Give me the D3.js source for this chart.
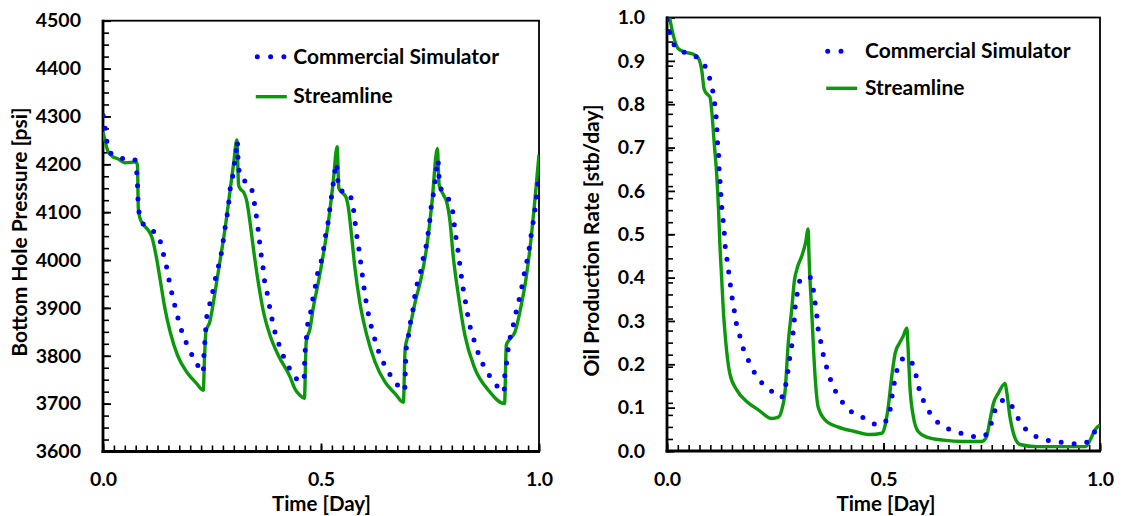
<!DOCTYPE html>
<html><head><meta charset="utf-8">
<script src="https://cdn.jsdelivr.net/npm/d3@7"></script>
<style>
html,body{margin:0;padding:0;background:#fff;}
svg text{font-family:Lato,"Open Sans",sans-serif;font-weight:700;fill:#000;}
</style></head>
<body><svg id="c" width="1122" height="516"></svg>
<script>
// ---------------- DATA ----------------
const seriesNames = ["Commercial Simulator", "Streamline"];
const xTickLabels = ["0.0", "0.5", "1.0"];
const bhpTickLabels = [3600, 3700, 3800, 3900, 4000, 4100, 4200, 4300, 4400, 4500];
const rateTickLabels = [0.0, 0.1, 0.2, 0.3, 0.4, 0.5, 0.6, 0.7, 0.8, 0.9, 1.0];

// Bottom hole pressure - commercial simulator
const bhpSimTime = [0.000,0.005,0.009,0.018,0.043,0.072,0.077,0.079,0.080,0.082,0.090,0.110,0.128,0.135,0.143,0.149,0.155,0.162,0.169,0.177,0.187,0.199,0.213,0.230,0.231,0.233,0.235,0.237,0.243,0.250,0.256,0.263,0.270,0.275,0.279,0.284,0.288,0.291,0.297,0.301,0.305,0.308,0.310,0.316,0.338,0.345,0.350,0.354,0.358,0.361,0.366,0.369,0.375,0.380,0.386,0.392,0.401,0.411,0.424,0.447,0.461,0.462,0.463,0.466,0.468,0.475,0.479,0.485,0.490,0.498,0.505,0.509,0.515,0.519,0.523,0.527,0.531,0.535,0.541,0.563,0.572,0.577,0.580,0.585,0.589,0.593,0.597,0.601,0.606,0.612,0.620,0.628,0.639,0.653,0.668,0.685,0.692,0.693,0.694,0.695,0.700,0.704,0.710,0.714,0.719,0.727,0.733,0.740,0.745,0.749,0.752,0.757,0.761,0.765,0.768,0.772,0.783,0.797,0.804,0.807,0.812,0.816,0.820,0.824,0.829,0.834,0.839,0.847,0.856,0.866,0.880,0.897,0.920,0.921,0.925,0.928,0.933,0.940,0.947,0.955,0.962,0.968,0.975,0.980,0.985,0.990,0.994,0.997,1.000];
const bhpSimValue = [4302,4275,4247,4223,4212,4211,4187,4159,4132,4104,4078,4063,4050,4023,3998,3970,3943,3915,3889,3862,3836,3811,3787,3765,3792,3820,3847,3874,3901,3926,3954,3981,4007,4035,4062,4089,4117,4144,4172,4198,4223,4249,4205,4172,4157,4130,4103,4076,4048,4021,3994,3966,3939,3912,3885,3858,3831,3805,3780,3750,3747,3773,3801,3829,3857,3883,3909,3933,3963,3989,4017,4044,4071,4099,4125,4153,4179,4203,4146,4142,4117,4090,4063,4036,4009,3981,3954,3927,3900,3873,3846,3820,3794,3769,3747,3731,3727,3756,3782,3809,3837,3864,3890,3918,3944,3970,3998,4024,4052,4079,4106,4134,4161,4188,4210,4157,4139,4117,4090,4062,4035,4007,3980,3952,3925,3899,3872,3845,3818,3793,3768,3745,3724,3752,3780,3805,3835,3860,3890,3920,3950,3980,4010,4040,4070,4100,4130,4155,4185];

// Bottom hole pressure - streamline
const bhpStrTime = [0.000,0.012,0.022,0.035,0.050,0.076,0.079,0.081,0.085,0.091,0.104,0.112,0.123,0.132,0.142,0.154,0.171,0.192,0.213,0.230,0.233,0.236,0.245,0.257,0.268,0.280,0.291,0.300,0.307,0.311,0.314,0.323,0.330,0.337,0.346,0.356,0.368,0.383,0.402,0.429,0.440,0.452,0.462,0.466,0.475,0.482,0.494,0.505,0.517,0.528,0.537,0.541,0.547,0.557,0.563,0.570,0.578,0.589,0.605,0.624,0.647,0.670,0.689,0.693,0.700,0.716,0.731,0.742,0.754,0.767,0.771,0.781,0.788,0.796,0.803,0.815,0.830,0.853,0.884,0.921,0.925,0.933,0.945,0.958,0.970,0.980,0.990,1.000];
const bhpStrValue = [4268,4226,4216,4211,4203,4205,4198,4108,4087,4076,4062,4048,4003,3954,3899,3850,3801,3766,3744,3728,3800,3850,3871,3933,3996,4066,4142,4205,4251,4157,4150,4141,4122,4080,4017,3954,3892,3843,3801,3756,3731,3717,3711,3829,3857,3899,3954,4010,4080,4163,4237,4150,4142,4132,4108,4052,3982,3912,3843,3787,3745,3721,3703,3815,3843,3912,3968,4024,4115,4233,4157,4136,4122,4080,4010,3927,3843,3773,3728,3700,3822,3835,3850,3900,3960,4030,4120,4220];

// Oil production rate - commercial simulator
const rateSimTime = [0.000,0.003,0.011,0.028,0.061,0.080,0.095,0.103,0.109,0.112,0.115,0.116,0.119,0.120,0.122,0.124,0.126,0.129,0.132,0.134,0.138,0.142,0.146,0.150,0.155,0.160,0.168,0.176,0.188,0.202,0.220,0.243,0.263,0.274,0.279,0.283,0.288,0.291,0.294,0.296,0.301,0.307,0.328,0.338,0.342,0.346,0.349,0.355,0.361,0.369,0.378,0.390,0.407,0.428,0.457,0.488,0.510,0.517,0.521,0.527,0.534,0.551,0.569,0.577,0.584,0.596,0.611,0.633,0.661,0.691,0.719,0.743,0.751,0.761,0.781,0.801,0.814,0.834,0.860,0.888,0.919,0.951,0.976,0.988,1.000];
const rateSimValue = [0.995,0.980,0.949,0.925,0.913,0.898,0.872,0.841,0.812,0.782,0.751,0.721,0.691,0.660,0.630,0.599,0.568,0.538,0.507,0.477,0.446,0.416,0.386,0.356,0.326,0.295,0.266,0.237,0.209,0.181,0.156,0.137,0.123,0.152,0.182,0.212,0.242,0.272,0.303,0.333,0.364,0.393,0.403,0.372,0.342,0.312,0.282,0.252,0.222,0.192,0.164,0.136,0.110,0.089,0.075,0.060,0.075,0.106,0.136,0.166,0.197,0.216,0.197,0.166,0.136,0.109,0.082,0.060,0.047,0.038,0.032,0.043,0.073,0.102,0.118,0.096,0.069,0.045,0.030,0.023,0.019,0.016,0.024,0.045,0.058];

// Oil production rate - streamline
const rateStrTime = [0.006,0.015,0.026,0.042,0.061,0.072,0.080,0.086,0.094,0.099,0.103,0.109,0.115,0.119,0.122,0.126,0.130,0.136,0.145,0.161,0.184,0.211,0.242,0.257,0.265,0.273,0.280,0.288,0.294,0.302,0.311,0.320,0.326,0.328,0.334,0.342,0.349,0.365,0.396,0.434,0.469,0.496,0.503,0.511,0.519,0.527,0.537,0.545,0.554,0.557,0.561,0.569,0.580,0.600,0.638,0.684,0.727,0.738,0.746,0.754,0.765,0.781,0.785,0.792,0.800,0.815,0.854,0.919,0.967,0.979,0.988,1.000];
const rateStrValue = [1.000,0.957,0.928,0.920,0.915,0.907,0.880,0.834,0.822,0.817,0.788,0.711,0.634,0.557,0.480,0.403,0.326,0.249,0.179,0.141,0.114,0.095,0.075,0.078,0.095,0.141,0.249,0.326,0.391,0.426,0.449,0.480,0.512,0.449,0.326,0.172,0.102,0.072,0.055,0.045,0.038,0.041,0.056,0.102,0.172,0.226,0.249,0.264,0.283,0.233,0.149,0.079,0.045,0.032,0.025,0.022,0.022,0.033,0.072,0.110,0.133,0.156,0.133,0.079,0.041,0.015,0.010,0.010,0.010,0.029,0.048,0.060];

// ---------------- DRAW ----------------
const BLUE = "#0000ff", GREEN = "#0b990b";
const svg = d3.select("#c");

function panel(cfg) {
  const x = d3.scaleLinear().domain([0, 1]).range([cfg.left, cfg.right]);
  const y = d3.scaleLinear().domain(cfg.yDomain).range([cfg.bottom, cfg.top]);
  const g = svg.append("g");
  const clipId = "clip" + cfg.id;
  svg.append("clipPath").attr("id", clipId).append("rect")
    .attr("x", cfg.left).attr("y", cfg.top)
    .attr("width", cfg.right - cfg.left).attr("height", cfg.bottom - cfg.top);

  // frame
  g.append("rect").attr("x", cfg.left).attr("y", cfg.top)
    .attr("width", cfg.right - cfg.left).attr("height", cfg.bottom - cfg.top)
    .attr("fill", "none").attr("stroke", "#000").attr("stroke-width", 1.8);

  // minor ticks x
  const xMinor = d3.range(0, 40.5).map(i => i / 40);
  g.append("g").attr("transform", `translate(0,${cfg.bottom})`)
    .call(d3.axisBottom(x).tickValues(xMinor).tickSizeInner(-6).tickSizeOuter(0).tickFormat(""))
    .call(a => a.select(".domain").remove())
    .call(a => a.selectAll("line").attr("stroke", "#000").attr("stroke-width", 1.6));
  // major x
  g.append("g").attr("transform", `translate(0,${cfg.bottom})`)
    .call(d3.axisBottom(x).tickValues([0, 0.5, 1]).tickSizeInner(-8).tickSizeOuter(0)
      .tickPadding(21).tickFormat((d, i) => xTickLabels[i]))
    .call(a => a.select(".domain").remove())
    .call(a => a.selectAll("line").attr("stroke", "#000").attr("stroke-width", 1.8))
    .call(a => a.selectAll("text").attr("font-size", 19.5).attr("font-family", "Lato").attr("font-weight", 700).attr("fill", "#000"));

  // minor y
  const [y0, y1] = cfg.yDomain;
  const yMinor = d3.range(0, 36.5).map(i => y0 + (y1 - y0) * i / 36);
  g.append("g").attr("transform", `translate(${cfg.left},0)`)
    .call(d3.axisLeft(y).tickValues(yMinor).tickSizeInner(-6).tickSizeOuter(0).tickFormat(""))
    .call(a => a.select(".domain").remove())
    .call(a => a.selectAll("line").attr("stroke", "#000").attr("stroke-width", 1.6));
  g.append("g").attr("transform", `translate(${cfg.left},0)`)
    .call(d3.axisLeft(y).tickValues(cfg.yTicks).tickSizeInner(-8).tickSizeOuter(0)
      .tickPadding(22).tickFormat(cfg.yFormat))
    .call(a => a.select(".domain").remove())
    .call(a => a.selectAll("line").attr("stroke", "#000").attr("stroke-width", 1.8))
    .call(a => a.selectAll("text").attr("font-size", 19.5).attr("font-family", "Lato").attr("font-weight", 700).attr("fill", "#000"));

  // thick left & bottom axis lines
  g.append("line").attr("x1", cfg.left).attr("x2", cfg.left).attr("y1", cfg.top - 0.9).attr("y2", cfg.bottom + 1.4)
    .attr("stroke", "#000").attr("stroke-width", 2.8);
  g.append("line").attr("x1", cfg.left - 1.4).attr("x2", cfg.right + 0.9).attr("y1", cfg.bottom).attr("y2", cfg.bottom)
    .attr("stroke", "#000").attr("stroke-width", 2.8);

  // series
  const line = d3.line().x(d => x(d[0])).y(d => y(d[1])).curve(d3.curveMonotoneX);
  const sim = cfg.simT.map((t, i) => [t, cfg.simV[i]]);
  const str = cfg.strT.map((t, i) => [t, cfg.strV[i]]);
  const lines = g.append("g").attr("clip-path", `url(#${clipId})`);
  lines.append("path").attr("d", line(str)).attr("fill", "none")
    .attr("stroke", GREEN).attr("stroke-width", 3.4).attr("stroke-linejoin", "round");
  lines.append("path").attr("d", line(sim)).attr("fill", "none")
    .attr("stroke", BLUE).attr("stroke-width", 5).attr("stroke-linecap", "round")
    .attr("stroke-dasharray", "0 13");

  // legend
  const L = cfg.legend;
  g.append("line").attr("x1", L.x).attr("x2", L.x + 26.6).attr("y1", L.y1).attr("y2", L.y1)
    .attr("stroke", BLUE).attr("stroke-width", 5).attr("stroke-linecap", "round").attr("stroke-dasharray", "0 13.3");
  g.append("line").attr("x1", L.x - 1.5).attr("x2", L.x + 29.5).attr("y1", L.y2).attr("y2", L.y2)
    .attr("stroke", GREEN).attr("stroke-width", 3.4);
  g.append("text").attr("x", L.tx).attr("y", L.y1 + 6.8).attr("font-size", 21).text(seriesNames[0]);
  g.append("text").attr("x", L.tx).attr("y", L.y2 + 6.5).attr("font-size", 21).text(seriesNames[1]);

  // axis titles
  g.append("text").attr("x", cfg.xTitleX).attr("y", cfg.xTitleY).attr("text-anchor", "middle")
    .attr("font-size", 20.5).text("Time [Day]");
  g.append("text").attr("transform", `translate(${cfg.yTitleX},${cfg.yTitleY}) rotate(-90)`)
    .attr("text-anchor", "middle").attr("font-size", 21).text(cfg.yTitle);
}

panel({
  id: "L", left: 103, right: 539, top: 20.7, bottom: 451.5,
  yDomain: [3600, 4500], yTicks: bhpTickLabels, yFormat: d => String(d),
  simT: bhpSimTime, simV: bhpSimValue, strT: bhpStrTime, strV: bhpStrValue,
  legend: { x: 257.3, y1: 56.7, y2: 96.7, tx: 293.3 },
  xTitleX: 321.5, xTitleY: 511, yTitleX: 26.5, yTitleY: 232, yTitle: "Bottom Hole Pressure [psi]"
});
panel({
  id: "R", left: 667, right: 1100, top: 17.5, bottom: 451,
  yDomain: [0, 1], yTicks: rateTickLabels, yFormat: d3.format(".1f"),
  simT: rateSimTime, simV: rateSimValue, strT: rateStrTime, strV: rateStrValue,
  legend: { x: 827.7, y1: 51.3, y2: 88.3, tx: 865 },
  xTitleX: 886, xTitleY: 511, yTitleX: 599, yTitleY: 240.5, yTitle: "Oil Production Rate [stb/day]"
});
</script></body></html>
